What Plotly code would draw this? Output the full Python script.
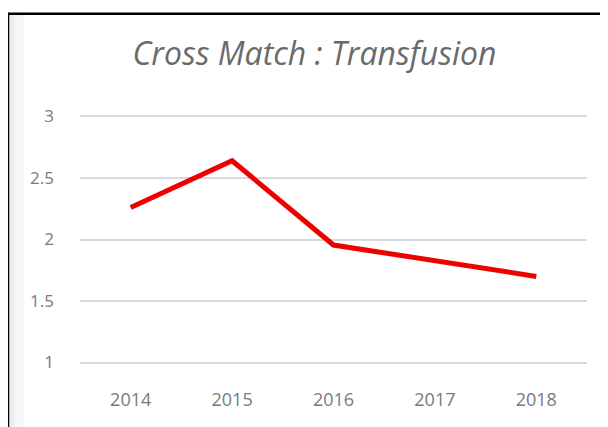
import plotly.graph_objects as go

years = ["2014", "2015", "2016", "2017", "2018"]
values = [2.26, 2.64, 1.955, 1.83, 1.70]
y_ticks = [1, 1.5, 2, 2.5, 3]
y_tick_labels = ["1", "1.5", "2", "2.5", "3"]
title_text = "Cross Match : Transfusion"

OFF = 8  # default body margin of the html page
W, H = 608 - OFF, 427 - OFF
# plot area in page pixels: x 80..587, y 116(=3)..363(=1)
pad = 0.02
unit = (363 - 116) / 2.0
top_px = 116 - pad * unit - OFF
bot_px = 363 + pad * unit - OFF
L, R = 80 - OFF, W - (587 - OFF)
T, B = top_px, H - bot_px
pw, ph = W - L - R, H - T - B

def px_x(x):
    return (x - OFF - L) / pw

def px_y(y):
    return (H - B - (y - OFF)) / ph

fig = go.Figure()
fig.add_trace(go.Scatter(
    x=years, y=values, mode="lines",
    line=dict(color="#ee0000", width=5),
    hoverinfo="skip", showlegend=False,
))

shapes = [
    dict(type="rect", xref="paper", yref="paper", x0=px_x(9), x1=px_x(14), y0=px_y(440), y1=px_y(14),
         fillcolor="#ececec", line=dict(width=0), layer="below"),
    dict(type="rect", xref="paper", yref="paper", x0=px_x(14), x1=px_x(24), y0=px_y(440), y1=px_y(14),
         fillcolor="#f6f6f6", line=dict(width=0), layer="below"),
    dict(type="line", xref="paper", yref="paper", x0=px_x(7), x1=px_x(620), y0=px_y(13), y1=px_y(13),
         line=dict(color="black", width=2.5)),
    dict(type="line", xref="paper", yref="paper", x0=px_x(8), x1=px_x(8), y0=px_y(12), y1=px_y(440),
         line=dict(color="black", width=2.5)),
]

fig.update_layout(
    width=W, height=H,
    margin=dict(l=L, r=R, t=T, b=B, pad=0),
    paper_bgcolor="white", plot_bgcolor="white",
    title=dict(text=title_text, x=px_x(314.5), xanchor="center", xref="paper",
               y=1 - (53.5 - OFF) / H, yanchor="middle",
               font=dict(family="Open Sans", size=32, color="#6a6a6a", style="italic")),
    xaxis=dict(type="category", showgrid=False, zeroline=False, showline=False,
               ticks="", ticklabelstandoff=22,
               tickfont=dict(family="Open Sans", size=18, color="#7a7a7a"),
               range=[-0.5, 4.5], fixedrange=True),
    yaxis=dict(range=[1 - pad, 3 + pad], tickvals=y_ticks, ticktext=y_tick_labels,
               showgrid=True, gridcolor="#d9d9d9", gridwidth=1.5, zeroline=False,
               showline=False, ticks="", ticklabelstandoff=25,
               tickfont=dict(family="Open Sans", size=17, color="#7a7a7a"), fixedrange=True),
    shapes=shapes,
)

fig.write_html("out.html")
